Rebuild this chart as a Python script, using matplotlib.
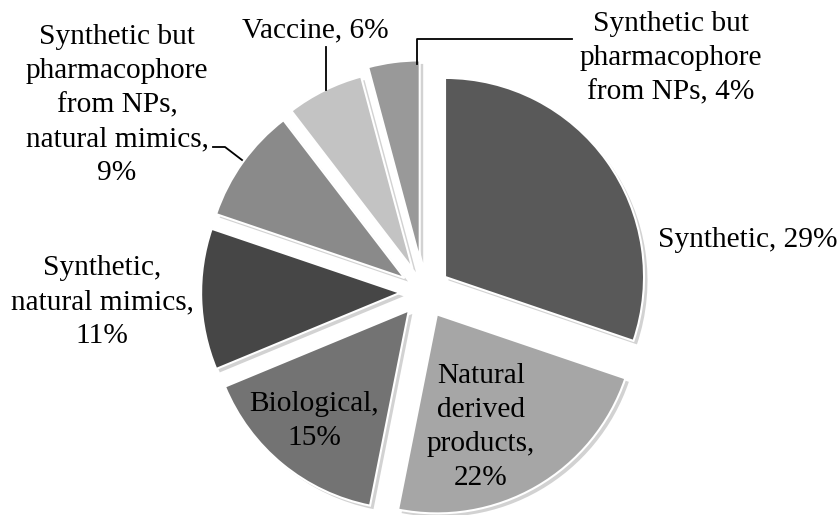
import matplotlib
matplotlib.use("Agg")
import matplotlib.pyplot as plt
import matplotlib.patheffects as pe

# ---- data ----
categories = [
    "Synthetic",
    "Natural\nderived\nproducts",
    "Biological",
    "Synthetic,\nnatural mimics",
    "Synthetic but\npharmacophore\nfrom NPs,\nnatural mimics",
    "Vaccine",
    "Synthetic but\npharmacophore\nfrom NPs",
]
values = [29, 22, 15, 11, 9, 6, 4]
colors = ["#595959", "#a6a6a6", "#737373", "#464646", "#8a8a8a", "#c3c3c3", "#999999"]
explode = [0.13, 0.13, 0.12, 0.12, 0.12, 0.13, 0.165]

# label text layout (joiner between name and percent)
joiners = [", ", ",\n", ",\n", ",\n", ",\n", ", ", ", "]

W, H = 838, 515
CX, CY, R = 424, 292, 199  # pie centre / radius in pixels


def px(x, y):
    return ((x - CX) / R, (CY - y) / R)


label_px = [(748, 240), (481, 427), (314, 421), (102, 302), (117, 105), (315, 30), (671, 58)]
leaders_px = [
    None, None, None, None,
    [(213, 147), (225, 147), (242, 160)],
    [(326, 47), (326, 90)],
    [(572, 39), (417, 39), (417, 64)],
]

plt.rcParams["font.family"] = ["Liberation Serif", "DejaVu Serif"]

fig = plt.figure(figsize=(W / 100, H / 100), dpi=100)
ax = fig.add_axes([0, 0, 1, 1])
wedges, _ = ax.pie(
    values,
    colors=colors,
    explode=explode,
    startangle=90,
    counterclock=False,
    radius=1,
    wedgeprops=dict(edgecolor="white", linewidth=1.5),
)
for w in wedges:
    w.set_path_effects([
        pe.SimplePatchShadow(offset=(2.5, -2.5), shadow_rgbFace="#7f7f7f", alpha=0.35),
        pe.Normal(),
    ])

for i, (cat, val) in enumerate(zip(categories, values)):
    txt = f"{cat}{joiners[i]}{val}%"
    x, y = px(*label_px[i])
    ax.text(x, y, txt, ha="center", va="center", fontsize=21.2,
            linespacing=1.41, color="black")
    if leaders_px[i] is not None:
        pts = [px(a, b) for a, b in leaders_px[i]]
        ax.plot([p[0] for p in pts], [p[1] for p in pts], color="black", lw=1.3)

ax.set_xlim(-CX / R, (W - CX) / R)
ax.set_ylim(-(H - CY) / R, CY / R)
ax.set_aspect("auto")
ax.axis("off")
fig.savefig("out.png", dpi=100)
